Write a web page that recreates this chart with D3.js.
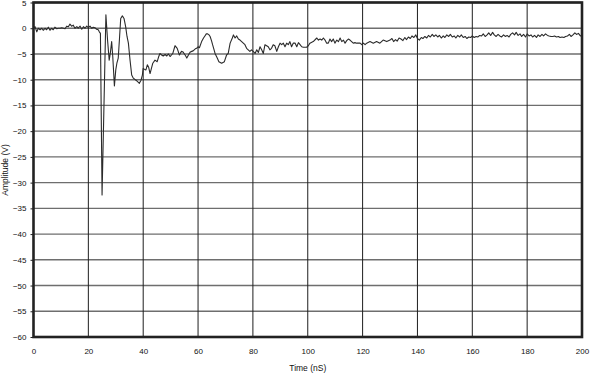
<!DOCTYPE html>
<html>
<head>
<meta charset="UTF-8" />
<title>Amplitude vs Time</title>
<script src="https://cdn.jsdelivr.net/npm/d3@7/dist/d3.min.js"></script>
<style>
body{margin:0;background:#fff;}
svg{display:block;font-family:"Liberation Sans",Arial,sans-serif;}
</style>
</head>
<body>
<div id="svg_container"></div>
<script type="text/javascript">
var w=590,h=373;
var plotLeft=33.5,plotRight=582,plotTop=2.5,plotBottom=337;

// tick labels
var xTicks=[0,20,40,60,80,100,120,140,160,180,200];
var yTicks=[5,0,-5,-10,-15,-20,-25,-30,-35,-40,-45,-50,-55,-60];

// trace
var timeNs=[0,0.55,1.2,1.75,2.4,3.0,3.6,4.2,4.8,5.4,6.0,6.6,7.2,7.8,8.5,9.0,9.7,10.3,10.9,11.5,
12.1,12.7,13.3,13.9,14.5,15.1,15.8,16.3,17.0,17.6,18.2,18.8,19.4,20.0,20.6,21.2,21.8,22.4,23.0,23.6,
24.0,24.4,25.0,26.4,27.0,27.6,28.0,28.5,28.9,29.5,30.0,30.4,30.9,31.4,31.8,32.4,33.0,33.6,34.1,34.6,
35.2,35.8,36.4,37.6,38.6,39.2,39.7,40.0,40.5,41.0,41.5,42.0,42.5,43.0,43.5,44.3,45.1,45.6,46.1,46.7,
47.3,48.0,48.6,49.2,49.8,50.3,50.8,51.6,52.4,53.2,53.6,54.0,54.5,54.9,55.4,55.9,56.4,56.8,57.2,57.7,
58.2,58.6,59.0,59.5,60.0,60.5,61.3,62.0,62.5,63.0,63.5,64.0,64.4,64.9,65.3,65.8,66.2,67.0,67.6,68.6,
69.6,70.4,71.0,71.7,72.5,72.9,73.5,74.1,74.7,75.3,75.9,76.5,77.1,77.7,78.3,78.9,79.5,80.1,80.8,81.4,
82.0,82.6,83.2,83.8,84.4,85.0,85.6,86.2,86.8,87.4,88.0,88.7,89.3,89.9,90.5,91.1,91.7,92.3,92.9,93.5,
94.1,94.7,95.4,96.0,96.6,97.2,97.8,98.4,99.0,99.6,100.2,100.8,102.0,103.3,103.9,104.5,105.1,105.7,106.3,106.9,
107.5,108.1,108.7,109.3,109.9,110.6,111.2,111.8,112.4,113.0,113.6,114.2,114.8,115.4,116.0,116.6,117.2,117.8,118.4,119.1,
119.7,120.3,120.9,121.5,122.7,123.9,125.1,126.3,127.5,128.8,130.0,130.7,131.3,132.0,132.6,133.3,134.0,134.7,135.4,136.0,
136.7,137.4,138.0,138.7,139.4,140.0,140.7,141.4,142.0,142.7,143.4,144.0,144.7,145.4,146.0,146.7,147.4,148.0,148.7,149.4,
150.0,150.7,151.4,152.0,152.7,153.4,154.0,154.7,155.4,156.0,156.7,157.4,158.0,158.7,159.4,160.0,160.7,161.4,162.0,162.7,
163.4,164.0,164.7,165.4,166.0,166.7,167.4,168.0,168.7,169.4,170.0,170.7,171.4,172.0,172.7,173.4,174.0,174.7,175.4,176.0,
176.7,177.4,178.0,178.7,179.4,180.0,180.7,181.4,182.0,182.7,183.4,184.0,184.7,185.4,186.0,186.7,187.4,188.0,188.7,189.4,
190.0,190.7,191.4,192.0,192.7,193.4,194.0,194.7,195.4,196.0,196.7,197.4,198.0,198.7,199.4,200.0];

var amplitudeV=[0,0.3,-0.7,0,-0.3,0,-0.4,0,-0.3,0.2,-0.4,0,-0.3,0.2,-0.1,0,0,0.1,0,-0.1,
0.4,0.3,0.8,0.4,0.6,0,0.3,0,0.4,-0.2,0.3,0,0.4,0.1,0.4,0,0.2,0.1,-0.2,-0.3,
-0.7,-1.0,-32.4,2.6,-2.3,-6.2,-4.9,-2.6,-5.5,-11.2,-8.1,-6.8,-5.8,-1.6,1.9,2.4,1.9,0.3,-1.6,-2.9,
-6.2,-9.1,-9.7,-10.2,-10.7,-10.1,-9.1,-7.8,-8.0,-8.1,-7.1,-7.6,-8.8,-7.8,-6.8,-6.2,-6.5,-5.6,-4.9,-5.2,
-5.4,-5.1,-5.4,-5.0,-5.5,-5.2,-4.9,-3.4,-3.9,-5.2,-4.8,-4.5,-4.6,-4.9,-5.3,-5.8,-5.3,-4.9,-4.6,-4.5,
-4.4,-4.2,-4.0,-3.9,-3.6,-3.8,-2.6,-1.9,-1.5,-1.1,-1.1,-1.3,-1.6,-2.4,-3.2,-4.1,-4.9,-5.8,-6.5,-6.8,
-6.5,-5.2,-4.9,-2.9,-1.9,-1.3,-1.9,-1.5,-2.1,-2.3,-2.6,-2.9,-3.2,-3.9,-4.2,-4.5,-4.2,-4.5,-4.9,-4.2,
-4.7,-3.6,-4.2,-4.9,-3.2,-3.4,-3.6,-4.2,-3.9,-3.2,-3.4,-4.5,-3.6,-2.9,-3.2,-2.9,-3.6,-2.9,-3.2,-2.6,
-3.6,-2.9,-2.9,-3.6,-2.8,-3.2,-3.6,-3.7,-3.7,-3.7,-3.4,-2.9,-2.6,-1.9,-2.3,-2.1,-2.3,-1.9,-2.3,-2.9,
-2.9,-2.1,-2.6,-2.1,-2.9,-2.3,-2.6,-1.9,-2.6,-2.3,-2.9,-2.4,-2.1,-2.3,-2.6,-2.9,-2.8,-2.9,-2.9,-2.9,
-3.2,-2.9,-3.2,-2.9,-2.6,-2.9,-2.6,-2.9,-2.3,-2.6,-2.3,-2.0,-2.6,-2.2,-2.5,-1.9,-2.1,-2.4,-1.8,-2.2,
-1.7,-2.0,-1.5,-1.8,-1.3,-2.0,-2.3,-1.8,-2.0,-1.6,-1.9,-1.4,-1.7,-1.2,-1.6,-1.3,-1.7,-1.4,-1.9,-1.5,
-1.8,-1.3,-1.6,-1.2,-1.7,-1.5,-1.9,-1.4,-1.7,-1.3,-1.8,-1.6,-2.0,-1.7,-1.8,-1.5,-1.8,-1.6,-1.7,-1.4,
-1.5,-1.1,-1.6,-1.3,-0.9,-1.4,-0.8,-1.3,-1.6,-1.2,-1.5,-1.7,-1.3,-1.6,-1.4,-1.7,-1.2,-0.9,-1.3,-0.8,
-1.4,-1.1,-1.6,-1.2,-1.7,-1.1,-1.5,-1.3,-1.7,-1.4,-1.8,-1.3,-1.6,-1.2,-1.5,-1.1,-1.4,-1.5,-1.6,-1.6,
-1.5,-1.7,-1.6,-1.8,-1.7,-1.8,-1.6,-1.5,-1.2,-1.6,-1.3,-0.9,-1.2,-1.0,-1.5,-1.4];

var trace=timeNs.map(function(t,i){return [t,amplitudeV[i]];});

var svg=d3.select('#svg_container')
          .append('svg')
          .attr('width',w)
          .attr('height',h);

var x=d3.scaleLinear().domain([0,200]).range([plotLeft,plotRight]);
var y=d3.scaleLinear().domain([-60,5]).range([plotBottom,plotTop]);

// grid
svg.append('g')
   .selectAll('line')
   .data(yTicks)
   .enter()
   .append('line')
   .attr('x1',plotLeft).attr('x2',plotRight)
   .attr('y1',function(d){return y(d);})
   .attr('y2',function(d){return y(d);})
   .attr('stroke','#6e6e6e')
   .attr('stroke-width',1.4);

svg.append('g')
   .selectAll('line')
   .data(xTicks)
   .enter()
   .append('line')
   .attr('y1',plotTop).attr('y2',plotBottom)
   .attr('x1',function(d){return x(d);})
   .attr('x2',function(d){return x(d);})
   .attr('stroke','#1e1e1e')
   .attr('stroke-width',1);

// axes
var yAxis=svg.append('g')
   .attr('transform','translate('+plotLeft+',0)')
   .call(d3.axisLeft(y).tickValues(yTicks).tickSize(3).tickPadding(4).tickFormat(d3.format('d')));
var xAxis=svg.append('g')
   .attr('transform','translate(0,'+plotBottom+')')
   .call(d3.axisBottom(x).tickValues(xTicks).tickSize(0).tickPadding(11).tickFormat(d3.format('d')));
[yAxis,xAxis].forEach(function(a){
  a.select('.domain').remove();
  a.selectAll('text').attr('font-size','8px').attr('fill','#111').attr('font-family','"Liberation Sans",Arial,sans-serif');
  a.selectAll('line').attr('stroke','#222');
});

// trace
var line=d3.line()
   .x(function(d){return x(d[0]);})
   .y(function(d){return y(d[1]);});

svg.append('path')
   .datum(trace)
   .attr('d',line)
   .attr('fill','none')
   .attr('stroke','#2b2b2b')
   .attr('stroke-width',1.1)
   .attr('stroke-linejoin','round');

// frame
svg.append('rect')
   .attr('x',plotLeft).attr('y',plotTop)
   .attr('width',plotRight-plotLeft).attr('height',plotBottom-plotTop)
   .attr('fill','none')
   .attr('stroke','#222')
   .attr('stroke-width',2.6);

// titles
svg.append('text')
   .attr('x',(plotLeft+plotRight)/2)
   .attr('y',371)
   .attr('text-anchor','middle')
   .attr('font-size','8.5px')
   .attr('fill','#111')
   .text('Time (nS)');

svg.append('text')
   .attr('transform','translate(8,170) rotate(-90)')
   .attr('text-anchor','middle')
   .attr('font-size','8.5px')
   .attr('fill','#111')
   .text('Amplitude (V)');
</script>
</body>
</html>
